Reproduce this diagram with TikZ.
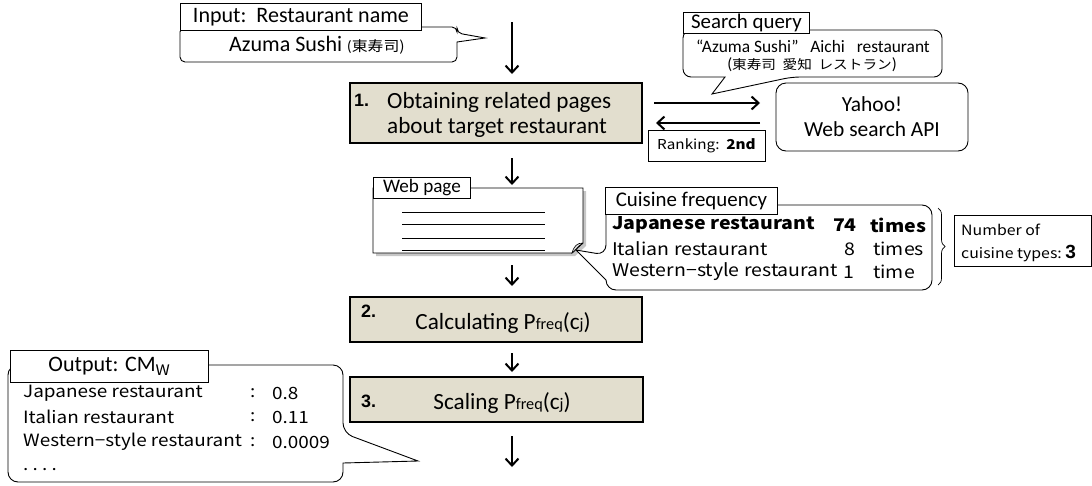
\documentclass[tikz,border=0pt]{standalone}
\usepackage{fontspec}
\setmainfont[Scale=1.16]{Carlito}
\newfontfamily\goth[Scale=1.09,FakeStretch=1.12]{Noto Sans CJK JP}
\newfontfamily\hvy[Scale=1.12]{Liberation Sans}
\usetikzlibrary{arrows.meta,decorations.pathreplacing}
\definecolor{stepfill}{RGB}{226,222,206}
\newcommand{\fsz}[1]{\fontsize{#1}{#1}\selectfont}
\newcommand{\Pf}[1]{P{\fsz{#1}freq}(c{\fsz{#1}j})}
\begin{document}
\begin{tikzpicture}[x=1pt,y=-1pt,
  ln/.style={line width=0.9pt},
  arr/.style={line width=2pt,-{Straight Barb[length=7pt,width=13pt]}},
  stepbox/.style={draw,line width=2pt,fill=stepfill,inner sep=0pt},
  tag/.style={draw,ln,fill=white,inner sep=0pt},
  txt/.style={inner sep=0pt,anchor=west},
]
\useasboundingbox (0,0) rectangle (1092,485);

% ---------- Input callout
\draw[ln,fill=white] (485,38) -- (457,42) [rounded corners=5] -- (457,62) -- (180,62) -- (180,27) -- (457,27) -- (457,33) [sharp corners] -- cycle;
\node[tag,minimum width=241,minimum height=27,anchor=north west] (inT) at (180,3) {\fsz{19}Input:\ \ Restaurant name};
\node[inner sep=0pt] (inB) at (317,45) {\fsz{19}Azuma Sushi {\fsz{13}(\goth 東寿司)}};

% ---------- Search query callout
\draw[ln,fill=white] (712,94) -- (725,77) [rounded corners=8] -- (683,77) -- (683,30) -- (942,30) -- (942,77) -- (792,77) [sharp corners] -- cycle;
\node[tag,minimum width=126,minimum height=21,anchor=north west] (sqT) at (683,12) {\fsz{18}Search query};
\node[inner sep=0pt] (sqB1) at (813,46) {\fsz{15}“Azuma Sushi”\ \ \ Aichi\ \ \ restaurant};
\node[inner sep=0pt] (sqB2) at (812,65) {\fsz{14}({\goth\fsz{12}東寿司\ \ 愛知\ \ レストラン})};

% ---------- Step 1
\node[stepbox,minimum width=292,minimum height=60] (s1) at (496,113) {};
\node[txt] (s1n) at (354,100) {\hvy\bfseries\fsz{16}1.};
\node[txt,align=left,font=\fontsize{20}{25}\selectfont] (s1t) at (387,115) {Obtaining related pages\\about target restaurant};

% ---------- Yahoo
\node[draw,ln,rounded corners=10,minimum width=192,minimum height=68,align=center,font=\fontsize{18.5}{25}\selectfont] (yh) at (872,117) {Yahoo!\\Web search API};
\node[tag,minimum width=117,minimum height=31] (rk) at (706.5,145.5) {\goth\fsz{12.5}Ranking:\ \ {\bfseries 2nd}};

\coordinate (r1) at (760,103);
\coordinate (r2) at (760,123);
\draw[arr,shorten <=11pt] (s1.east |- r1) -- (r1);
\draw[arr,shorten >=13pt] (r2) -- (s1.east |- r2);

% ---------- arrows down
\coordinate (a1s) at (512,22);
\draw[arr,shorten >=8pt] (a1s) -- (a1s |- s1.north);
\coordinate (a2e) at (512,185);
\draw[arr,shorten <=14pt] (a2e |- s1.south) -- (a2e);

% ---------- Web page
\fill[gray!45] (376,191) -- (586,191) -- (586,246) -- (575,256) -- (376,256) -- cycle;
\draw[ln,fill=white] (373,188) -- (583,188) -- (583,243) -- (572,253) -- (373,253) -- cycle;
\draw[line width=0.6pt,fill=gray!25] (583,243) .. controls (577,243) and (574,246) .. (572,253) .. controls (576,250) and (578,246) .. (583,243);
\foreach \yy in {212,224,238,250} \draw[line width=0.8pt] (402,\yy) -- (545,\yy);
\node[tag,minimum width=97,minimum height=21,anchor=north west] (wpT) at (373,177) {\fsz{16.5}Web page};

% ---------- Cuisine frequency callout
\draw[ln,fill=white] (576,250) -- (606,280) [rounded corners=10] -- (606,290) -- (932,290) -- (932,205) -- (606,205) -- (606,255) [sharp corners] -- cycle;
\node[tag,minimum width=172,minimum height=27,anchor=north west] (cfT) at (605,187) {\fsz{18}Cuisine frequency};
\node[txt] (c1) at (612,225) {\goth\bfseries\fsz{16}Japanese restaurant};
\node[txt,anchor=east] (c1n) at (857,225) {\goth\bfseries\fsz{16}74};
\node[txt] (c1t) at (870,225) {\goth\bfseries\fsz{16}times};
\node[txt] (c2) at (612,249) {\goth\fsz{16}Italian restaurant};
\node[txt,anchor=east] (c2n) at (856,249) {\goth\fsz{16}8};
\node[txt] (c2t) at (873,249) {\goth\fsz{16}times};
\node[txt] (c3) at (612,272) {\goth\fsz{16}Western\hbox{−}style restaurant};
\node[txt,anchor=east] (c3n) at (855,272) {\goth\fsz{16}1};
\node[txt] (c3t) at (873,272) {\goth\fsz{16}time};

\draw[line width=0.7pt,decorate,decoration={brace,amplitude=7pt}] (938,208) -- (938,285);
\node[tag,minimum width=137,minimum height=51,anchor=north west] (nb) at (954,215) {};
\node[txt] (nb1) at (961,230) {\goth\fsz{13}Number of};
\node[txt] (nb2) at (961,254) {\goth\fsz{13}cuisine types:\ {\hvy\bfseries\fsz{17}3}};

% ---------- Step 2, 3
\node[stepbox,minimum width=292,minimum height=45] (s2) at (496,319.5) {};
\node[txt] (s2n) at (361,311) {\hvy\bfseries\fsz{16}2.};
\node[inner sep=0pt] (s2t) at (503,323) {\fsz{20}Calculating \Pf{14}};
\node[stepbox,minimum width=293,minimum height=45] (s3) at (496.5,399.5) {};
\node[txt] (s3n) at (361,401) {\hvy\bfseries\fsz{16}3.};
\node[inner sep=0pt] (s3t) at (502,403) {\fsz{20}Scaling \Pf{14}};

\coordinate (a3s) at (512,265);
\draw[arr,shorten >=10pt] (a3s) -- (a3s |- s2.north);
\draw[arr,shorten <=10pt,shorten >=4pt] (a3s |- s2.south) -- (a3s |- s3.north);
\coordinate (a5e) at (512,467);
\draw[arr,shorten <=13pt] (a5e |- s3.south) -- (a5e);

% ---------- Output callout
\draw[ln,fill=white] (418,461) -- (343,463) [rounded corners=10] -- (343,482) -- (8,482) -- (8,365) -- (343,365) -- (343,433) [sharp corners] -- cycle;
\node[tag,minimum width=198,minimum height=32,anchor=north west] (opT) at (10,350) {\fsz{19}Output: CM\textsubscript{\goth W}};
\node[txt] (o1) at (23,393) {\goth\fsz{15.5}Japanese restaurant};
\node[txt] (o1c) at (250,393) {\goth\fsz{15.5}:};
\node[txt] (o1v) at (272,393) {\goth\fsz{15.5}0.8};
\node[txt] (o2) at (23,417) {\goth\fsz{15.5}Italian restaurant};
\node[txt] (o2c) at (250,417) {\goth\fsz{15.5}:};
\node[txt] (o2v) at (272,417) {\goth\fsz{15.5}0.11};
\node[txt] (o3) at (23,442) {\goth\fsz{15.5}Western\hbox{−}style restaurant};
\node[txt] (o3c) at (250,442) {\goth\fsz{15.5}:};
\node[txt] (o3v) at (272,442) {\goth\fsz{15.5}0.0009};
\node[txt] (o4) at (23,470) {\goth\fsz{15.5}.\ .\ .\ .};
\end{tikzpicture}
\end{document}
